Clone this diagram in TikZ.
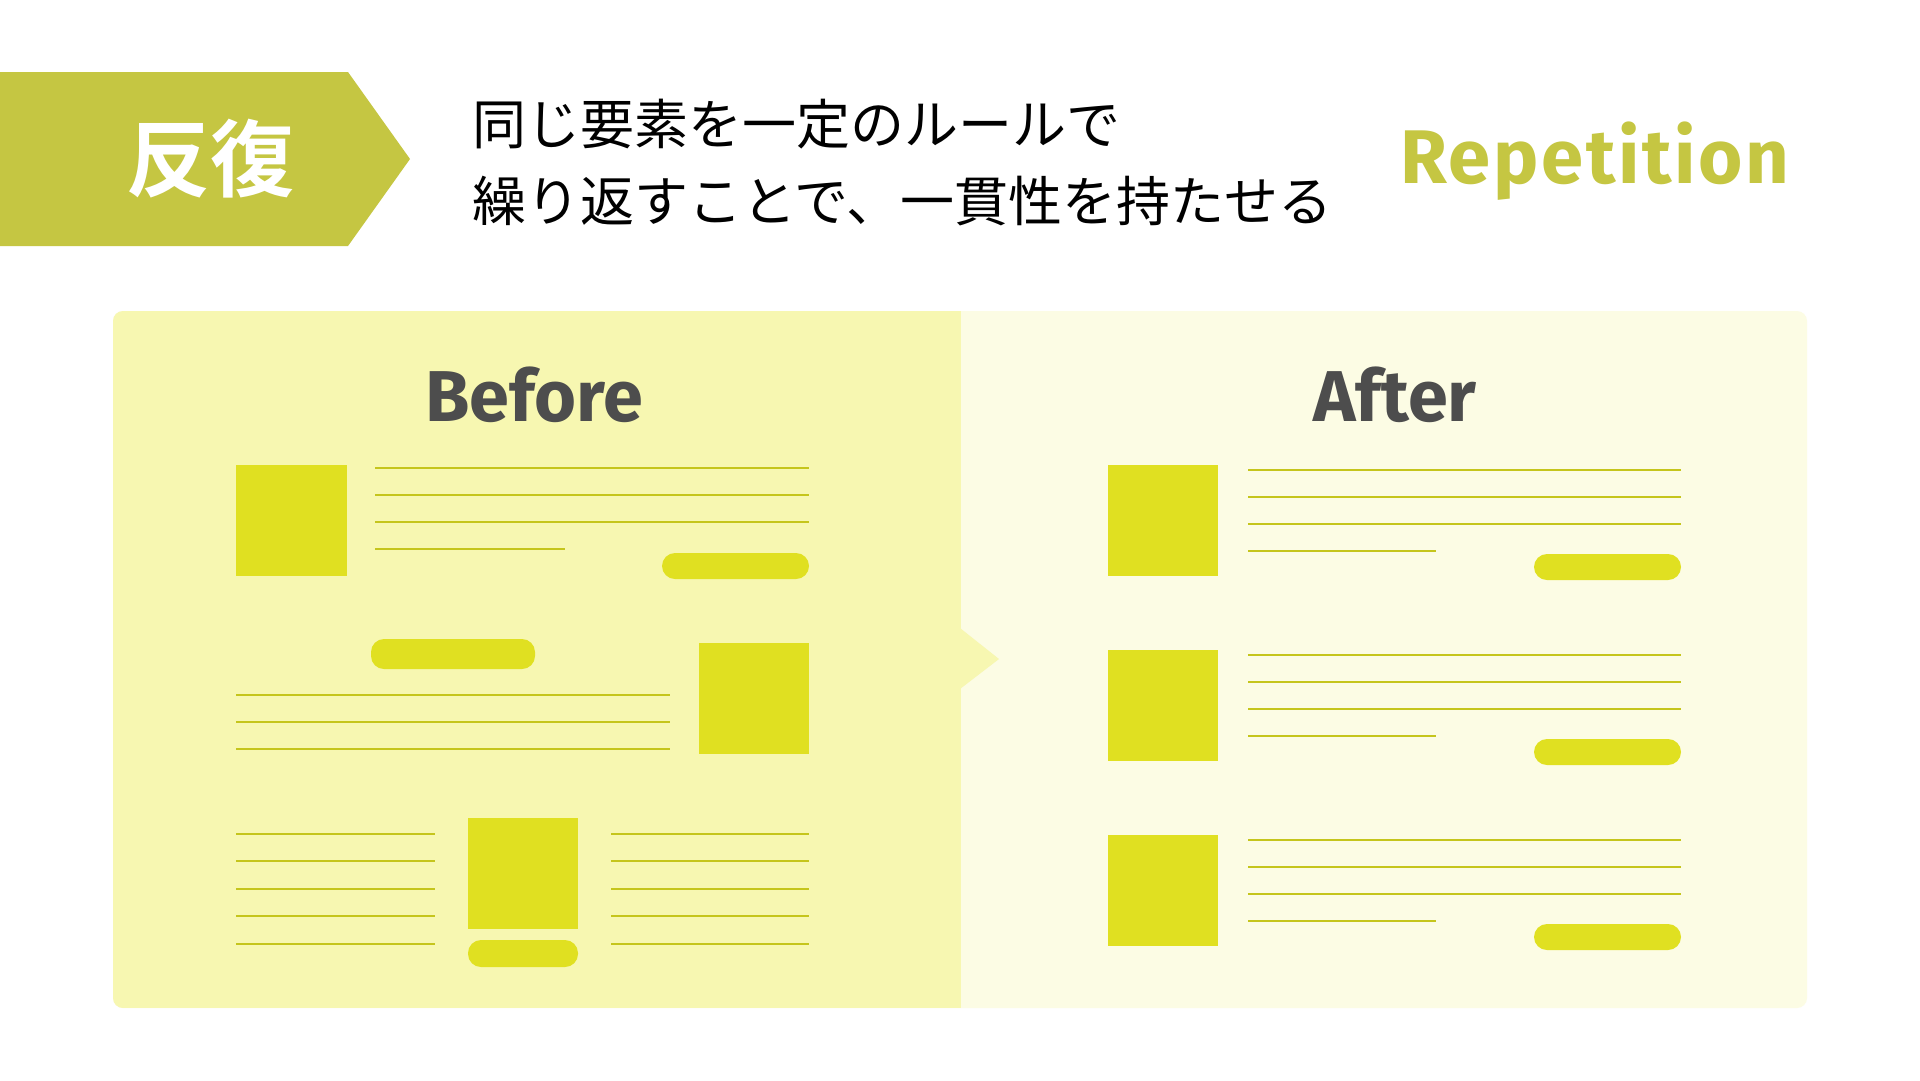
\documentclass[tikz,border=0pt]{standalone}
\usepackage{fontspec}
\newfontfamily\jpfont{Noto Sans CJK JP}
\newfontfamily\jpbold{Noto Sans CJK JP Bold}
\newfontfamily\latfont{Fira Sans}
\newfontfamily\latspaced{Fira Sans}[LetterSpace=3.5]
\definecolor{olive}{HTML}{C5C642}
\definecolor{leftbg}{HTML}{F7F7B1}
\definecolor{rightbg}{HTML}{FCFCE4}
\definecolor{blockcol}{HTML}{E0E021}
\definecolor{linecol}{HTML}{C5C51C}
\definecolor{darktext}{HTML}{4D4D4D}
\tikzset{
  txtline/.style={draw=linecol, line width=2.6pt},
  blockbox/.style={fill=blockcol},
  pillbox/.style={fill=blockcol, rounded corners=13pt},
  headtext/.style={font=\latfont\bfseries\fontsize{72}{72}\selectfont, text=darktext, inner sep=0pt, anchor=base},
  subtext/.style={inner sep=0pt, anchor=west, font=\jpfont\fontsize{54}{54}\selectfont},
}
\begin{document}
\begin{tikzpicture}[x=1pt,y=-1pt]
\useasboundingbox (0,0) rectangle (1920,1080);
\fill[white] (0,0) rectangle (1920,1080);
% banner
\fill[olive] (0,72) -- (348,72) -- (410,159) -- (348,246) -- (0,246) -- cycle;
\node[inner sep=0pt, text=white, font=\jpbold\fontsize{84}{84}\selectfont] (title) at (210,159) {反復};
% subtitle
\node[subtext] (sub1) at (472,124) {同じ要素を一定のルールで};
\node[subtext] (sub2) at (472,201) {繰り返すことで、一貫性を持たせる};
% Repetition
\node[inner sep=0pt, anchor=base, text=olive, font=\latspaced\bfseries\fontsize{76}{76}\selectfont] (rep) at (1595,183) {Repetition};
% panel
\fill[rightbg, rounded corners=10pt] (113,311) rectangle (1807,1008);
\begin{scope}
\clip[rounded corners=10pt] (113,311) rectangle (1807,1008);
\fill[leftbg] (113,311) rectangle (961,1008);
\end{scope}
\fill[leftbg] (960,628) -- (999,659) -- (960,689) -- cycle;
\node[headtext] (before) at (534,421) {Before};
\node[headtext] (after) at (1395,421) {After};
% Before block 1
\fill[blockbox] (236,465) rectangle (347,576);
\draw[txtline] (375,468) -- (809,468);
\draw[txtline] (375,495) -- (809,495);
\draw[txtline] (375,522) -- (809,522);
\draw[txtline] (375,549) -- (565,549);
\fill[pillbox] (662,553) rectangle (809,579);
% Before block 2
\fill[pillbox] (371,639) rectangle (535,669);
\fill[blockbox] (699,643) rectangle (809,754);
\draw[txtline] (236,695) -- (670,695);
\draw[txtline] (236,722) -- (670,722);
\draw[txtline] (236,749) -- (670,749);
% Before block 3
\fill[blockbox] (468,818) rectangle (578,929);
\fill[pillbox] (468,940) rectangle (578,967);
\foreach \yy in {834,861,889,916,944}{
  \draw[txtline] (236,\yy) -- (435,\yy);
  \draw[txtline] (611,\yy) -- (809,\yy);
}
% After blocks
\foreach \dy in {0,185,370}{
  \fill[blockbox] (1108,465+\dy) rectangle (1218,576+\dy);
  \draw[txtline] (1248,470+\dy) -- (1681,470+\dy);
  \draw[txtline] (1248,497+\dy) -- (1681,497+\dy);
  \draw[txtline] (1248,524+\dy) -- (1681,524+\dy);
  \draw[txtline] (1248,551+\dy) -- (1436,551+\dy);
  \fill[pillbox] (1534,554+\dy) rectangle (1681,580+\dy);
}
\end{tikzpicture}
\end{document}
